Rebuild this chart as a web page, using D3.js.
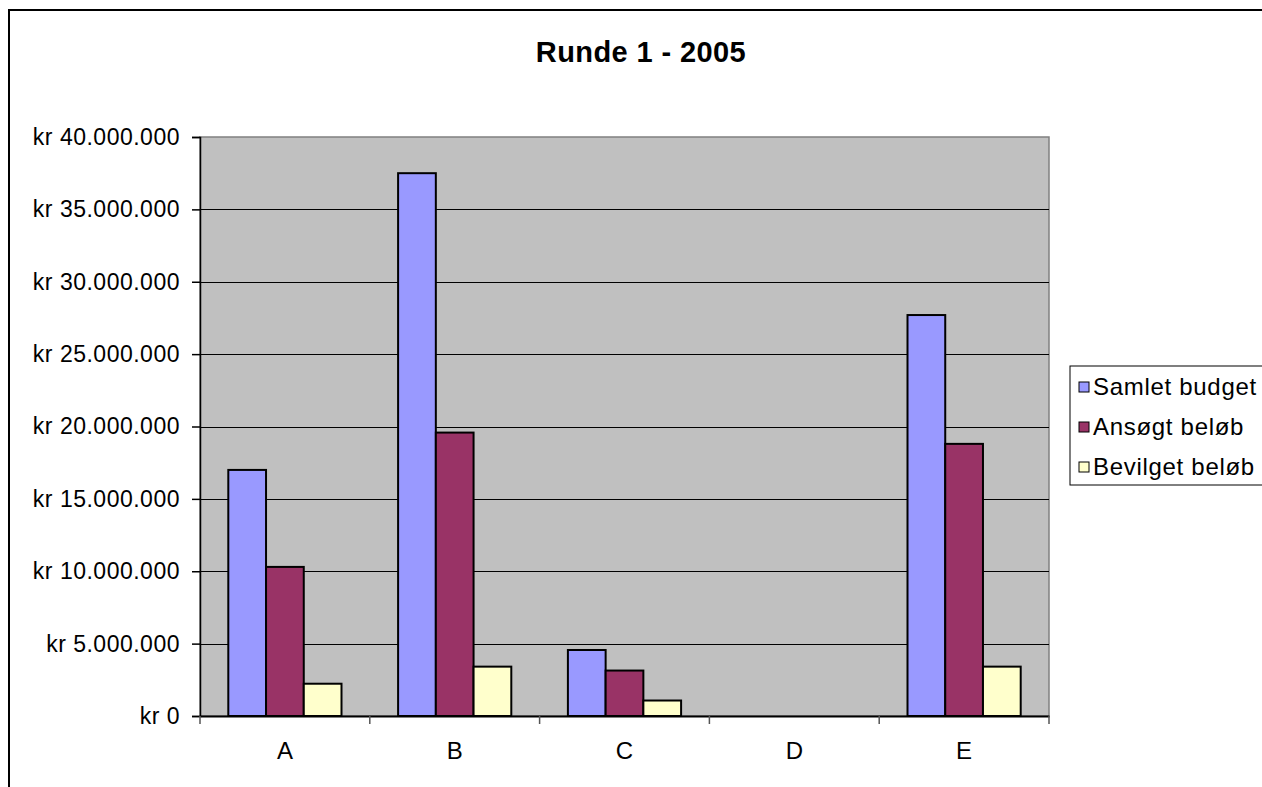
<!DOCTYPE html>
<html>
<head>
<meta charset="utf-8">
<script src="https://cdn.jsdelivr.net/npm/d3@7"></script>
<style>
  body { margin: 0; background: #fff; }
  svg { display: block; font-family: Arial, "Liberation Sans", sans-serif; }
</style>
</head>
<body>
<div id="chart"></div>
<script>
// chart data
var categories = ["A", "B", "C", "D", "E"];
var seriesNames = ["Samlet budget", "Ansøgt beløb", "Bevilget beløb"];
var samletBudget = [17000000, 37500000, 4560000, 0, 27700000];
var ansoegtBeloeb = [10300000, 19580000, 3140000, 0, 18800000];
var bevilgetBeloeb = [2230000, 3410000, 1070000, 0, 3410000];
var yTicks = [0, 5000000, 10000000, 15000000, 20000000, 25000000, 30000000, 35000000, 40000000];
var colors = ["#9999ff", "#993366", "#ffffcc"];

var layout = {
    "width": 1262,
    "height": 787,
    "plot": {"left": 200, "top": 137, "right": 1049, "bottom": 716}
};

var series = [samletBudget, ansoegtBeloeb, bevilgetBeloeb];

var svg = d3.select("#chart").append("svg")
    .attr("width", layout.width)
    .attr("height", layout.height);

// outer chart border (runs off the right/bottom edge like the original)
svg.append("rect")
    .attr("x", 9).attr("y", 10)
    .attr("width", 1270).attr("height", 800)
    .attr("fill", "#fff")
    .attr("stroke", "#000")
    .attr("stroke-width", 2);

// title
svg.append("text")
    .attr("x", 641).attr("y", 62)
    .attr("text-anchor", "middle")
    .attr("font-size", "29px")
    .attr("font-weight", "bold")
    .attr("letter-spacing", "0.4px")
    .text("Runde 1 - 2005");

var p = layout.plot;

// scales
var x0 = d3.scaleBand()
    .domain(categories)
    .range([p.left, p.right]);

var x1 = d3.scaleBand()
    .domain(d3.range(seriesNames.length))
    .range([0, x0.bandwidth()])
    .paddingOuter(0.75)
    .paddingInner(0);

var y = d3.scaleLinear()
    .domain([0, 40000000])
    .range([p.bottom, p.top]);

// plot area
svg.append("rect")
    .attr("x", p.left).attr("y", p.top)
    .attr("width", p.right - p.left).attr("height", p.bottom - p.top)
    .attr("fill", "#c0c0c0")
    .attr("stroke", "#808080")
    .attr("stroke-width", 1.5);

// gridlines
svg.append("g")
    .selectAll("line")
    .data(yTicks.slice(1, -1))
    .enter()
    .append("line")
    .attr("x1", p.left).attr("x2", p.right)
    .attr("y1", d => Math.round(y(d)) + 0.5)
    .attr("y2", d => Math.round(y(d)) + 0.5)
    .attr("stroke", "#000")
    .attr("stroke-width", 1);

// bars
var group = svg.append("g")
    .selectAll("g")
    .data(categories)
    .enter()
    .append("g")
    .attr("transform", d => "translate(" + x0(d) + ",0)");

group.selectAll("rect")
    .data((d, i) => series.map((s, j) => ({"k": j, "v": s[i]})))
    .enter()
    .filter(d => d.v > 0)
    .append("rect")
    .attr("x", d => x1(d.k))
    .attr("y", d => y(d.v))
    .attr("width", x1.bandwidth())
    .attr("height", d => y(0) - y(d.v))
    .attr("fill", d => colors[d.k])
    .attr("stroke", "#000")
    .attr("stroke-width", 2);

// y axis
var yAxis = d3.axisLeft(y)
    .tickValues(yTicks)
    .tickSize(8)
    .tickPadding(12)
    .tickFormat(d => "kr " + d3.format(",")(d).replace(/,/g, "."));

svg.append("g")
    .attr("transform", "translate(" + p.left + ",0)")
    .call(yAxis)
    .call(g => g.selectAll("line, path").attr("stroke", "#000").attr("stroke-width", 1.5))
    .call(g => g.selectAll("text")
        .attr("fill", "#000")
        .attr("font-size", "23px")
        .attr("letter-spacing", "0.5px")
        .attr("font-family", "Arial, 'Liberation Sans', sans-serif"));

// x axis
var xAxis = d3.axisBottom(x0)
    .tickSize(0)
    .tickPadding(26);

svg.append("g")
    .attr("transform", "translate(0," + p.bottom + ")")
    .call(xAxis)
    .call(g => g.select(".domain").attr("stroke", "#000").attr("stroke-width", 2))
    .call(g => g.selectAll("text")
        .attr("fill", "#000")
        .attr("font-size", "24px")
        .attr("font-family", "Arial, 'Liberation Sans', sans-serif"));

// x ticks on category boundaries
svg.append("g")
    .selectAll("line")
    .data(categories.concat(["end"]))
    .enter()
    .append("line")
    .attr("x1", (d, i) => p.left + i * x0.step())
    .attr("x2", (d, i) => p.left + i * x0.step())
    .attr("y1", p.bottom)
    .attr("y2", p.bottom + 8)
    .attr("stroke", "#555")
    .attr("stroke-width", 1.5);

// legend
var legend = svg.append("g")
    .attr("transform", "translate(1070,366)");

legend.append("rect")
    .attr("x", 0).attr("y", 0)
    .attr("width", 210).attr("height", 119)
    .attr("fill", "#fff")
    .attr("stroke", "#000")
    .attr("stroke-width", 1);

var item = legend.selectAll("g.item")
    .data(seriesNames)
    .enter()
    .append("g")
    .attr("class", "item")
    .attr("transform", (d, i) => "translate(9," + (21 + i * 40) + ")");

item.append("rect")
    .attr("x", 0).attr("y", -5)
    .attr("width", 10).attr("height", 10)
    .attr("fill", (d, i) => colors[i])
    .attr("stroke", "#000")
    .attr("stroke-width", 1);

item.append("text")
    .attr("x", 14)
    .attr("y", 8)
    .attr("font-size", "24px")
    .attr("letter-spacing", "0.7px")
    .text(d => d);
</script>
</body>
</html>
